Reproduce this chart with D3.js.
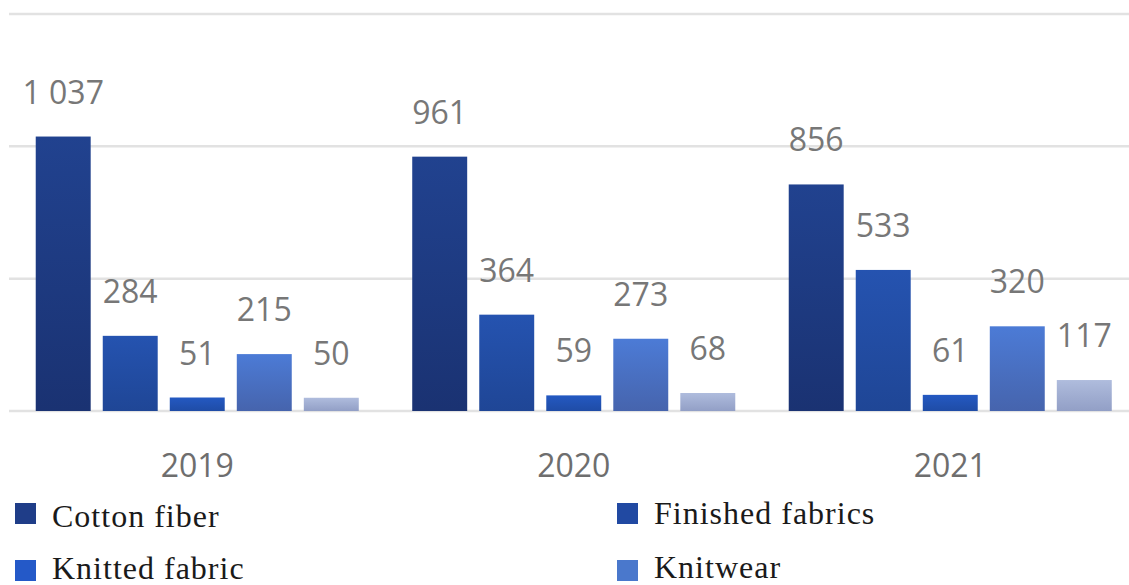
<!DOCTYPE html>
<html>
<head>
<meta charset="utf-8">
<script src="https://cdn.jsdelivr.net/npm/d3@7"></script>
<style>
    body { margin: 0; background: #fff; }
    svg { display: block; }
</style>
</head>
<body>
<svg id="chart"></svg>
<script>
const years = ["2019", "2020", "2021"];
const seriesNames = ["Cotton fiber", "Finished fabrics", "Knitted fabric", "Knitwear", "Garments"];
const cottonFiber = [1037, 961, 856];
const finishedFabrics = [284, 364, 533];
const knittedFabric = [51, 59, 61];
const knitwear = [215, 273, 320];
const garments = [50, 68, 117];
const yTicks = [0, 500, 1000, 1500];

// top / bottom stops of each bar gradient
const colorTop = ["#21428f", "#2553b0", "#2459c2", "#4c7bd6", "#afbcdd"];
const colorBottom = ["#1a3272", "#1f4696", "#1f4ca6", "#4664ad", "#929fc6"];
const legendColors = ["#1f3d88", "#2149a2", "#2459c8", "#4a78cc"];

const width = 1129, height = 585;
const baseY = 411, topY = 14;

const svg = d3.select("#chart")
    .attr("width", width)
    .attr("height", height);

const seriesValues = [cottonFiber, finishedFabrics, knittedFabric, knitwear, garments];
const rows = years.map((yr, i) => ({
    year: yr,
    values: seriesValues.map((arr, s) => ({ s: s, v: arr[i] }))
}));

const x0 = d3.scaleBand()
    .domain(years)
    .range([9, 1138.5])
    .paddingInner(0.142)
    .paddingOuter(0.071);

const x1 = d3.scaleBand()
    .domain(d3.range(seriesNames.length))
    .range([0, x0.bandwidth()])
    .paddingInner(0.18)
    .paddingOuter(0);

const y = d3.scaleLinear()
    .domain([0, 1500])
    .range([baseY, topY]);

// gradients
const defs = svg.append("defs");
seriesNames.forEach((n, s) => {
    const g = defs.append("linearGradient")
        .attr("id", "grad" + s)
        .attr("x1", 0).attr("y1", 0)
        .attr("x2", 0).attr("y2", 1);
    g.append("stop").attr("offset", "0%").attr("stop-color", colorTop[s]);
    g.append("stop").attr("offset", "100%").attr("stop-color", colorBottom[s]);
});

// gridlines
svg.append("g")
    .selectAll("line")
    .data(yTicks)
    .join("line")
    .attr("x1", 9)
    .attr("x2", width)
    .attr("y1", d => y(d))
    .attr("y2", d => y(d))
    .attr("stroke", "#e2e2e2")
    .attr("stroke-width", 2.5);

// bars + labels
const groups = svg.append("g")
    .selectAll("g")
    .data(rows)
    .join("g")
    .attr("transform", d => `translate(${x0(d.year)},0)`);

groups.selectAll("rect")
    .data(d => d.values)
    .join("rect")
    .attr("x", d => x1(d.s))
    .attr("y", d => y(d.v))
    .attr("width", x1.bandwidth())
    .attr("height", d => baseY - y(d.v))
    .attr("fill", d => `url(#grad${d.s})`);

const fmt = v => d3.format(",")(v).replace(",", " ");

groups.selectAll("text")
    .data(d => d.values)
    .join("text")
    .attr("x", d => x1(d.s) + x1.bandwidth() / 2)
    .attr("y", d => y(d.v) - 33)
    .attr("text-anchor", "middle")
    .attr("font-family", "'Open Sans', sans-serif")
    .attr("font-size", 32)
    .attr("fill", "#777777")
    .text(d => fmt(d.v));

// x axis labels
svg.append("g")
    .selectAll("text")
    .data(years)
    .join("text")
    .attr("x", d => x0(d) + x0.bandwidth() / 2)
    .attr("y", 477)
    .attr("text-anchor", "middle")
    .attr("font-family", "'Open Sans', sans-serif")
    .attr("font-size", 32)
    .attr("fill", "#6e6e6e")
    .text(d => d);

// legend (two columns, third row falls off the picture)
const legendPos = [
    { x: 15, y: 503, ty: 24 },
    { x: 617, y: 503, ty: 21 },
    { x: 15, y: 560, ty: 19 },
    { x: 617, y: 560, ty: 18 }
];
const legend = svg.append("g")
    .selectAll("g")
    .data(legendColors)
    .join("g")
    .attr("transform", (d, i) => `translate(${legendPos[i].x},${legendPos[i].y})`);

legend.append("rect")
    .attr("width", 21)
    .attr("height", 21)
    .attr("fill", d => d);

legend.append("text")
    .attr("x", 37)
    .attr("y", (d, i) => legendPos[i].ty)
    .attr("font-family", "'Liberation Serif', 'Times New Roman', serif")
    .attr("font-size", 32)
    .attr("letter-spacing", 1)
    .attr("fill", "#1a1a1a")
    .text((d, i) => seriesNames[i]);
</script>
</body>
</html>
